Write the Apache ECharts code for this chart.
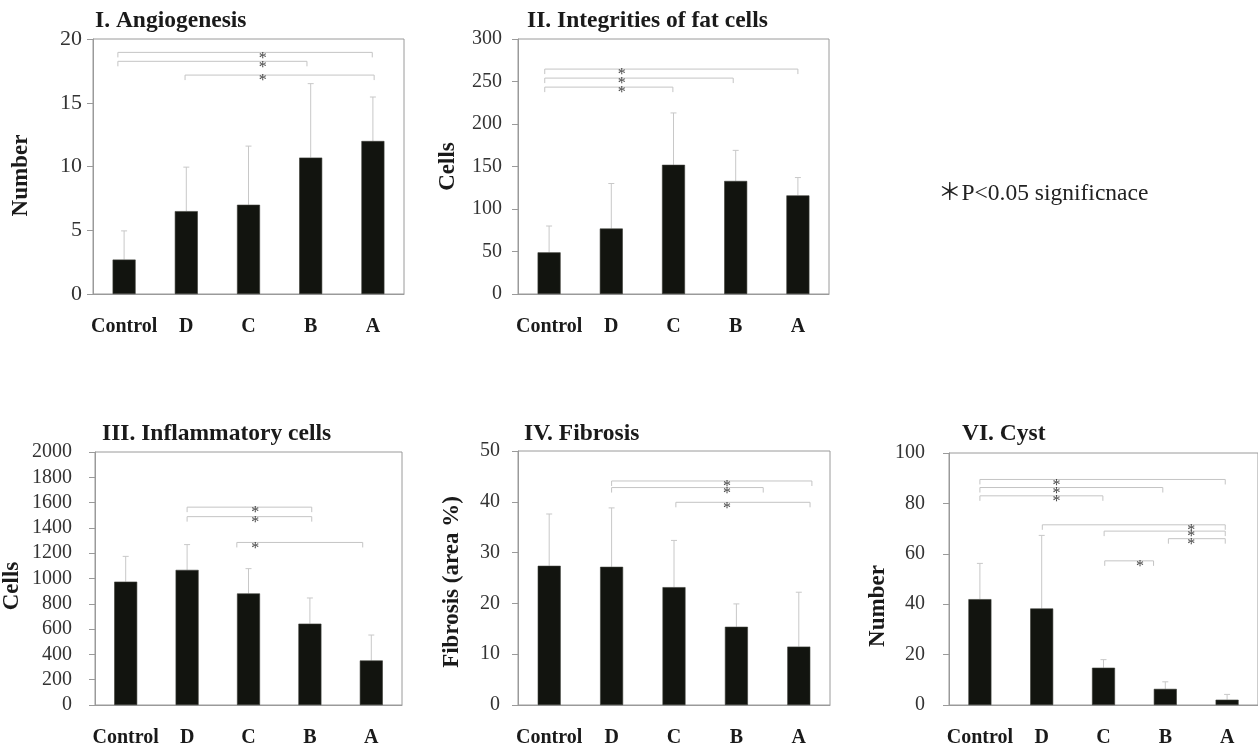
<!DOCTYPE html>
<html><head><meta charset="utf-8">
<script src="https://cdn.jsdelivr.net/npm/echarts@6/dist/echarts.min.js"></script>
<style>html,body{margin:0;padding:0;background:#fff}#c{width:1258px;height:748px}</style>
</head><body><div id="c"></div>
<script>
// ---------- data ----------
const categories = ['Control', 'D', 'C', 'B', 'A'];

const angioMean = [2.7, 6.5, 7.0, 10.7, 12.0];
const angioSD   = [2.25, 3.45, 4.6, 5.8, 3.45];
const fatMean   = [49, 77, 152, 133, 116];
const fatSD     = [31, 53, 61, 36, 21];
const inflMean  = [975, 1068, 882, 643, 352];
const inflSD    = [200, 200, 196, 203, 201];
const fibMean   = [27.4, 27.2, 23.2, 15.4, 11.5];
const fibSD     = [10.2, 11.6, 9.2, 4.5, 10.7];
const cystMean  = [42.0, 38.3, 14.8, 6.4, 2.1];
const cystSD    = [14.2, 29.0, 3.2, 2.8, 2.1];

// significance brackets: [from (category units), to, level (y value), star x]
const angioSig = [[-0.10, 3.99, 18.95, 2.23], [-0.10, 2.94, 18.25, 2.23], [0.98, 4.02, 17.17, 2.23]];
const fatSig   = [[-0.07, 4.0, 264.6, 1.17], [-0.07, 2.96, 254, 1.17], [-0.07, 1.99, 243.4, 1.17]];
const inflSig  = [[1.0, 3.03, 1564, 2.11], [1.0, 3.03, 1489, 2.11], [1.81, 3.86, 1285, 2.11]];
const fibSig   = [[1.0, 4.21, 44.1, 2.85], [1.0, 3.43, 42.8, 2.85], [2.03, 4.18, 39.9, 2.85]];
const cystSig  = [[0.0, 3.97, 89.5, 1.24], [0.0, 2.96, 86.3, 1.24], [0.0, 1.99, 83.0, 1.24],
                  [1.01, 3.97, 71.5, 3.42], [2.01, 3.97, 69.0, 3.42], [3.05, 3.97, 66.0, 3.42],
                  [2.02, 2.81, 57.2, 2.59]];

const titles = ['I. Angiogenesis', 'II. Integrities of fat cells', 'III. Inflammatory cells', 'IV. Fibrosis', 'VI. Cyst'];
const yNames = ['Number', 'Cells', 'Cells', 'Fibrosis (area %)', 'Number'];
const yMax = [20, 300, 2000, 50, 100];
const yInterval = [5, 50, 200, 10, 20];
const noteText = '＊P<0.05 significnace';

// ---------- layout ----------
const layout = [
  {grid: {left: 93, top: 39, width: 311, height: 255}, title: {left: 95, top: 9}, nameGap: 60, nameShift: 18, labelSize: 22, labelMargin: 11},
  {grid: {left: 518, top: 39, width: 311, height: 255}, title: {left: 527, top: 9}, nameGap: 58, nameShift: 0, labelSize: 20, labelMargin: 16},
  {grid: {left: 89, top: 452, width: 313, height: 255}, title: {left: 102, top: 422}, nameGap: 71, nameShift: 15, labelSize: 20, labelMargin: 23},
  {grid: {left: 518, top: 451, width: 312, height: 256}, title: {left: 524, top: 422}, nameGap: 54, nameShift: 8, labelSize: 20, labelMargin: 18},
  {grid: {left: 949, top: 453, width: 311, height: 255}, title: {left: 962, top: 422}, nameGap: 59, nameShift: 54, labelSize: 20, labelMargin: 24}
];
const means = [angioMean, fatMean, inflMean, fibMean, cystMean];
const sds = [angioSD, fatSD, inflSD, fibSD, cystSD];
const sigs = [angioSig, fatSig, inflSig, fibSig, cystSig];

const SERIF = '"Liberation Serif", "Times New Roman", serif';
const AX = '#9a9a9a';

const grids = [], xAxes = [], yAxes = [], series = [], titleArr = [];
layout.forEach((L, i) => {
  grids.push(Object.assign({show: true, borderColor: AX, borderWidth: 1}, L.grid));
  titleArr.push({text: titles[i], left: L.title.left, top: L.title.top, padding: 0,
    textStyle: {fontFamily: SERIF, fontWeight: 'bold', fontSize: 23.5, color: '#1a1a1a'}});
  xAxes.push({gridIndex: i, type: 'category', data: categories,
    axisLine: {show: true, onZero: false, lineStyle: {color: AX}}, axisTick: {show: false},
    axisLabel: {interval: 0, fontFamily: SERIF, fontWeight: 'bold', fontSize: 20, color: '#1a1a1a', margin: 23}});
  xAxes.push({gridIndex: i, type: 'value', min: -0.5, max: 4.5, show: false,
    axisLine: {show: false, onZero: false}, splitLine: {show: false}});
  yAxes.push({gridIndex: i, type: 'value', min: 0, max: yMax[i], interval: yInterval[i],
    axisLine: {show: true, onZero: false, lineStyle: {color: AX}},
    axisTick: {show: true, length: 6, lineStyle: {color: AX}},
    splitLine: {show: false},
    axisLabel: {fontFamily: SERIF, fontSize: L.labelSize, color: '#333', margin: L.labelMargin,
      formatter: v => String(v)},
    name: yNames[i], nameLocation: 'middle', nameGap: L.nameGap, nameRotate: 90,
    nameTextStyle: {fontFamily: SERIF, fontWeight: 'bold', fontSize: 23, color: '#1a1a1a',
      padding: [0, L.nameShift, 0, 0]}});

  series.push({type: 'bar', xAxisIndex: 2 * i, yAxisIndex: i, data: means[i], barWidth: 23,
    itemStyle: {color: '#12140f', borderColor: '#3a3c36', borderWidth: 0.6}, silent: true});

  series.push({type: 'custom', xAxisIndex: 2 * i, yAxisIndex: i, silent: true, z: 1,
    data: means[i].map((m, k) => [k, m, m + sds[i][k]]),
    renderItem: function (params, api) {
      const p0 = api.coord([api.value(0), api.value(1)]);
      const p1 = api.coord([api.value(0), api.value(2)]);
      const st = {stroke: '#c8c8c8', lineWidth: 1};
      return {type: 'group', children: [
        {type: 'line', shape: {x1: p0[0], y1: p0[1], x2: p1[0], y2: p1[1]}, style: st},
        {type: 'line', shape: {x1: p1[0] - 3, y1: p1[1], x2: p1[0] + 3, y2: p1[1]}, style: st}
      ]};
    }});

  series.push({type: 'custom', xAxisIndex: 2 * i + 1, yAxisIndex: i, silent: true, clip: false,
    data: sigs[i],
    renderItem: function (params, api) {
      const a = api.coord([api.value(0), api.value(2)]);
      const b = api.coord([api.value(1), api.value(2)]);
      const s = api.coord([api.value(3), api.value(2)]);
      return {type: 'group', children: [
        {type: 'polyline', shape: {points: [[a[0], a[1] + 5], [a[0], a[1]], [b[0], b[1]], [b[0], b[1] + 5]]},
          style: {stroke: '#c4c4c4', lineWidth: 1, fill: null}},
        {type: 'text', style: {text: '*', x: s[0], y: s[1] + 6, fill: '#444',
          font: '16px "Liberation Serif"', textAlign: 'center', textVerticalAlign: 'middle'}}
      ]};
    }});
});

const chart = echarts.init(document.getElementById('c'), null, {renderer: 'canvas'});
chart.setOption({
  animation: false,
  backgroundColor: '#fff',
  title: titleArr,
  grid: grids, xAxis: xAxes, yAxis: yAxes, series: series,
  graphic: [{type: 'text', left: 938, top: 182,
    style: {text: noteText, font: '23.5px "Liberation Serif", "Noto Sans CJK JP"', fill: '#222'}}]
});
</script></body></html>
